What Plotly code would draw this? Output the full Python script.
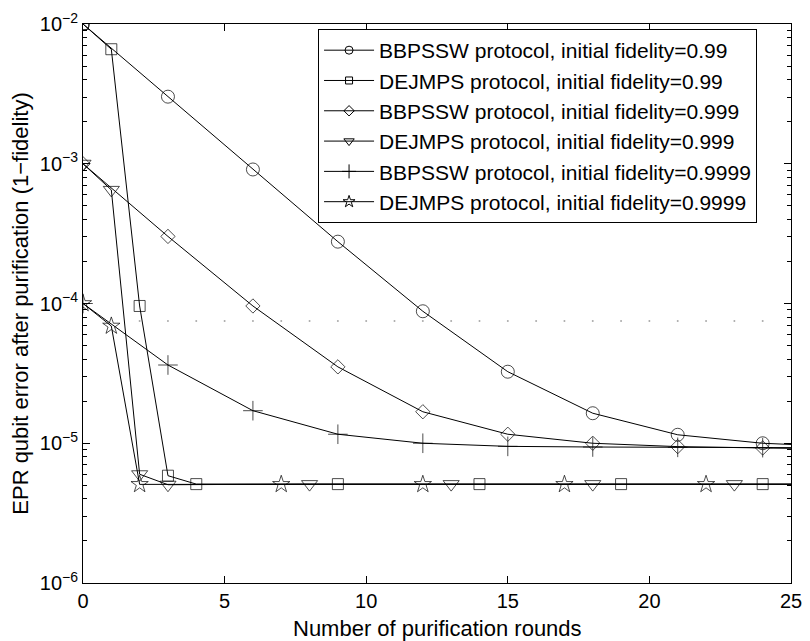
import plotly.graph_objects as go

# purification data (x = round, y = 1 - fidelity)
bbpssw_99_rounds = [0, 3, 6, 9, 12, 15, 18, 21, 24, 25]
bbpssw_99_error = [1.0e-2, 3.02e-3, 9.1e-4, 2.77e-4, 8.8e-5, 3.25e-5, 1.64e-5, 1.15e-5, 1.0e-5, 9.8e-6]

dejmps_99_rounds = [0, 1, 2, 3, 4, 9, 14, 19, 24, 25]
dejmps_99_error = [1.0e-2, 6.6e-3, 9.6e-5, 5.86e-6, 5.1e-6, 5.1e-6, 5.1e-6, 5.1e-6, 5.1e-6, 5.1e-6]

bbpssw_999_rounds = [0, 3, 6, 9, 12, 15, 18, 21, 24, 25]
bbpssw_999_error = [1.0e-3, 3.02e-4, 9.6e-5, 3.52e-5, 1.68e-5, 1.16e-5, 1.0e-5, 9.46e-6, 9.25e-6, 9.2e-6]

dejmps_999_rounds = [0, 1, 2, 3, 8, 13, 18, 23, 25]
dejmps_999_error = [1.0e-3, 6.5e-4, 6.0e-6, 5.05e-6, 5.1e-6, 5.1e-6, 5.1e-6, 5.1e-6, 5.1e-6]

bbpssw_9999_rounds = [0, 3, 6, 9, 12, 15, 18, 21, 24, 25]
bbpssw_9999_error = [1.0e-4, 3.63e-5, 1.71e-5, 1.16e-5, 1.0e-5, 9.5e-6, 9.4e-6, 9.35e-6, 9.3e-6, 9.3e-6]

dejmps_9999_rounds = [0, 1, 2, 7, 12, 17, 22, 25]
dejmps_9999_error = [1.0e-4, 6.9e-5, 5.08e-6, 5.08e-6, 5.08e-6, 5.08e-6, 5.08e-6, 5.08e-6]

# faint dotted row that shows up in the original
dotted_rounds = list(range(2, 25))
dotted_error = [7.5e-5] * len(dotted_rounds)

names = [
	'BBPSSW protocol, initial fidelity=0.99',
	'DEJMPS protocol, initial fidelity=0.99',
	'BBPSSW protocol, initial fidelity=0.999',
	'DEJMPS protocol, initial fidelity=0.999',
	'BBPSSW protocol, initial fidelity=0.9999',
	'DEJMPS protocol, initial fidelity=0.9999',
]

y_tickvals = [1e-6, 1e-5, 1e-4, 1e-3, 1e-2]
y_ticktext = ['10<sup>\u22126</sup>', '10<sup>\u22125</sup>', '10<sup>\u22124</sup>',
	'10<sup>\u22123</sup>', '10<sup>\u22122</sup>']

series = [
	(bbpssw_99_rounds, bbpssw_99_error, 'circle-open', 13),
	(dejmps_99_rounds, dejmps_99_error, 'square-open', 11),
	(bbpssw_999_rounds, bbpssw_999_error, 'diamond-open', 11),
	(dejmps_999_rounds, dejmps_999_error, 'triangle-down-open', 14),
	(bbpssw_9999_rounds, bbpssw_9999_error, 'cross-thin-open', 14),
	(dejmps_9999_rounds, dejmps_9999_error, 'star-open', 13),
]
legend_sizes = [8, 7, 8, 9, 10, 9]

fig = go.Figure()

fig.add_trace(go.Scatter(x=dotted_rounds, y=dotted_error, mode='markers', showlegend=False,
	hoverinfo='skip', marker={'size': 2, 'color': '#aaaaaa'}))

for (rounds, error, symbol, size), name, lsize in zip(series, names, legend_sizes):
	# last point (x=25) only carries the line, no marker
	sizes = [0 if r == 25 else size for r in rounds]
	fig.add_trace(go.Scatter(x=rounds, y=error, mode='lines+markers', showlegend=False,
		line={'color': 'black', 'width': 1},
		marker={'symbol': symbol, 'size': sizes, 'color': 'black', 'line': {'width': 1, 'color': 'black'}}))
	# legend entry with smaller marker
	fig.add_trace(go.Scatter(x=[None], y=[None], mode='lines+markers', name=name,
		line={'color': 'black', 'width': 1},
		marker={'symbol': symbol, 'size': lsize, 'color': 'black', 'line': {'width': 1, 'color': 'black'}}))

# x title placed by hand so it sits like the original
fig.add_annotation(text='Number of purification rounds', xref='paper', yref='paper',
	x=0.5, y=-0.081, xanchor='center', yanchor='middle', showarrow=False,
	font={'size': 22})

# page body adds ~8px margin, so the figure is a bit smaller than the window
fig.update_layout(
	width=802, height=633,
	margin={'l': 75, 'r': 19, 't': 16, 'b': 58},
	paper_bgcolor='white',
	plot_bgcolor='white',
	font={'family': 'Liberation Sans, Arial, sans-serif', 'size': 22, 'color': 'black'},
	showlegend=True,
	legend={
		'x': 0.332, 'y': 0.991, 'xanchor': 'left', 'yanchor': 'top',
		'bgcolor': 'white', 'bordercolor': 'black', 'borderwidth': 1,
		'font': {'size': 21},
		'itemwidth': 50,
		'tracegroupgap': 0,
	},
	xaxis={
		'range': [0, 25], 'tickvals': [0, 5, 10, 15, 20, 25],
		'ticks': 'inside', 'ticklen': 7, 'tickcolor': 'black',
		'tickfont': {'size': 20},
		'showline': True, 'linecolor': 'black', 'linewidth': 1, 'mirror': 'ticks',
		'showgrid': False, 'zeroline': False, 'automargin': False,
	},
	yaxis={
		'title': {'text': 'EPR qubit error after purification (1\u2212fidelity)', 'standoff': 6,
			'font': {'size': 22}},
		'type': 'log', 'range': [-6, -2],
		'tickvals': y_tickvals, 'ticktext': y_ticktext,
		'ticks': 'inside', 'ticklen': 7, 'tickcolor': 'black',
		'tickfont': {'size': 20},
		'minor': {'ticks': 'inside', 'ticklen': 4, 'tickcolor': 'black', 'dtick': 'D1', 'showgrid': False},
		'showline': True, 'linecolor': 'black', 'linewidth': 1, 'mirror': 'ticks',
		'showgrid': False, 'zeroline': False, 'automargin': False,
	},
)

fig.write_html("out.html")
